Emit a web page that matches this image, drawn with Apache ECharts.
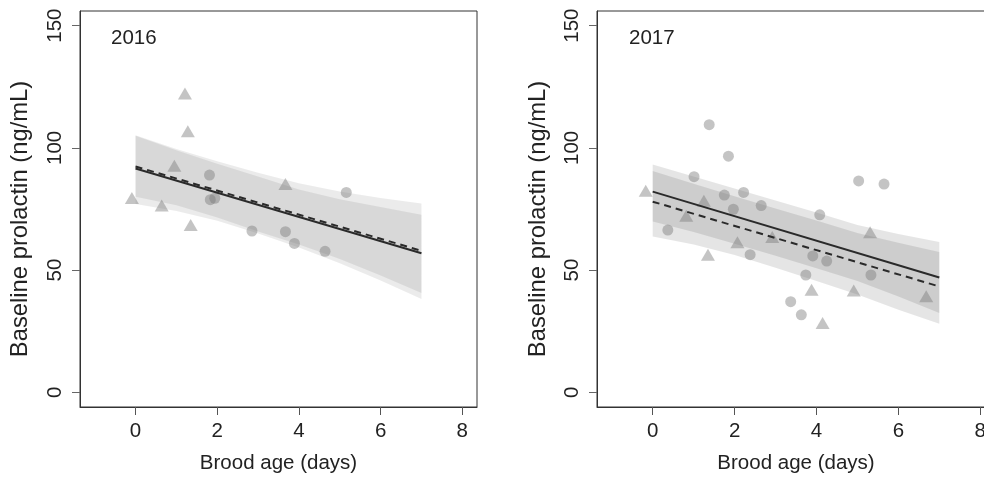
<!DOCTYPE html>
<html><head><meta charset="utf-8">
<script src="https://cdn.jsdelivr.net/npm/echarts@6/dist/echarts.min.js"></script>
<style>html,body{margin:0;padding:0;background:#fff;overflow:hidden}#c{width:1000px;height:479px}</style>
</head><body><div id="c"></div>
<script>
// ---------- data ----------
const xTicks = [0, 2, 4, 6, 8];
const yTicks = [0, 50, 100, 150];
const bandX = [0, 1, 2, 3, 4, 5, 6, 7];
const lineX = [0, 7];

// 2016
const tri2016X = [-0.09, 0.64, 0.95, 1.21, 1.28, 1.35, 3.67];
const tri2016Y = [79.5, 76.4, 92.7, 122.2, 106.8, 68.5, 85.2];
const circ2016X = [1.81, 1.83, 1.94, 2.85, 3.67, 3.89, 4.64, 5.16];
const circ2016Y = [88.9, 78.8, 79.4, 66.0, 65.7, 60.9, 57.7, 81.8];
const solid2016 = [91.6, 56.9];
const dashed2016 = [92.4, 57.9];
const bandA2016Upper = [105.2, 99.5, 94.5, 89.8, 85.5, 82.2, 79.5, 77.3];
const bandA2016Lower = [80.0, 76.5, 71.5, 65.8, 60.5, 54.5, 47.8, 40.6];
const bandB2016Upper = [105.0, 99.0, 93.5, 88.3, 83.0, 79.0, 75.8, 72.6];
const bandB2016Lower = [77.0, 74.2, 70.2, 65.0, 59.3, 52.8, 45.8, 38.2];

// 2017
const tri2017X = [-0.17, 0.82, 1.25, 1.35, 2.07, 2.92, 3.88, 4.15, 4.91, 5.31, 6.68];
const tri2017Y = [82.5, 72.2, 78.4, 56.3, 61.4, 63.5, 42.0, 28.4, 41.7, 65.5, 39.3];
const circ2017X = [0.37, 1.01, 1.38, 1.75, 1.85, 1.97, 2.22, 2.38, 2.65, 3.37, 3.63, 3.74, 3.91, 4.08, 4.25, 5.03, 5.33, 5.65];
const circ2017Y = [66.4, 88.2, 109.5, 80.7, 96.6, 74.9, 81.8, 56.3, 76.4, 37.1, 31.7, 48.0, 55.8, 72.6, 53.7, 86.5, 48.0, 85.2];
const solid2017 = [82.1, 47.0];
const dashed2017 = [78.0, 43.3];
const bandS2017Upper = [93.2, 88.3, 83.4, 78.5, 73.6, 68.5, 64.8, 61.5];
const bandS2017Lower = [69.9, 65.6, 60.8, 55.9, 50.8, 45.5, 39.2, 32.5];
const bandD2017Upper = [90.5, 85.3, 80.2, 75.2, 70.3, 65.2, 61.2, 57.4];
const bandD2017Lower = [63.8, 60.5, 56.2, 51.0, 45.5, 40.0, 33.8, 28.1];

// ---------- style ----------
const FONT = 'Liberation Sans, Arial, Helvetica, sans-serif';
const FS = 20.5;
const FS_YTITLE = 23.8;
const PT_COLOR = 'rgba(120,120,120,0.55)';

function pairs(xs, ys) { return xs.map((x, i) => [x, ys[i]]); }

function bandSeries(idx, upper, lower, fill) {
  return {
    type: 'custom', xAxisIndex: idx, yAxisIndex: idx, z: 1, silent: true,
    data: [[bandX[0], upper[0]]],
    renderItem: function (params, api) {
      const pts = [];
      for (let i = 0; i < bandX.length; i++) pts.push(api.coord([bandX[i], upper[i]]));
      for (let i = bandX.length - 1; i >= 0; i--) pts.push(api.coord([bandX[i], lower[i]]));
      return { type: 'polygon', shape: { points: pts }, style: { fill: fill } };
    }
  };
}
function scatterSeries(idx, xs, ys, sym) {
  return {
    type: 'scatter', xAxisIndex: idx, yAxisIndex: idx, z: 2, silent: true,
    symbol: sym, symbolSize: sym === 'triangle' ? [14, 12] : 11,
    itemStyle: { color: PT_COLOR },
    data: pairs(xs, ys)
  };
}
function lineSeries(idx, ys, dashed) {
  return {
    type: 'line', xAxisIndex: idx, yAxisIndex: idx, z: 3, silent: true,
    showSymbol: false, symbol: 'none',
    lineStyle: { color: '#2a2a2a', width: 2, type: dashed ? [7, 5] : 'solid' },
    data: pairs(lineX, ys)
  };
}
function xAx(idx) {
  return {
    type: 'value', gridIndex: idx, min: -1.36, max: 8.36,
    splitLine: { show: false },
    axisLine: { show: true, onZero: false, lineStyle: { color: '#333', width: 1 } },
    axisTick: { show: true, length: 8, customValues: xTicks, lineStyle: { color: '#555' } },
    axisLabel: { customValues: xTicks, margin: 14, fontSize: FS, color: '#222', fontFamily: FONT }
  };
}
function yAx(idx) {
  return {
    type: 'value', gridIndex: idx, min: -6, max: 156,
    splitLine: { show: false },
    axisLine: { show: true, onZero: false, lineStyle: { color: '#333', width: 1 } },
    axisTick: { show: true, length: 8, customValues: yTicks, lineStyle: { color: '#666' } },
    axisLabel: { customValues: yTicks, rotate: 90, margin: 14.5, fontSize: FS, color: '#222', fontFamily: FONT }
  };
}
function txt(x, y, s, rot, align, fs) {
  return {
    type: 'text', x: x, y: y, rotation: rot || 0, silent: true,
    style: { text: s, align: align || 'center', verticalAlign: 'middle', fontSize: fs || FS, fontFamily: FONT, fill: '#222' }
  };
}

const chart = echarts.init(document.getElementById('c'), null, { renderer: 'canvas' });
chart.setOption({
  animation: false,
  backgroundColor: '#fff',
  grid: [
    { left: 80, top: 11, width: 397, height: 396, show: true, borderColor: '#333', borderWidth: 1, backgroundColor: 'transparent' },
    { left: 597, top: 11, width: 398, height: 396, show: true, borderColor: '#333', borderWidth: 1, backgroundColor: 'transparent' }
  ],
  xAxis: [xAx(0), xAx(1)],
  yAxis: [yAx(0), yAx(1)],
  series: [
    bandSeries(0, bandA2016Upper, bandA2016Lower, 'rgba(0,0,0,0.08)'),
    bandSeries(0, bandB2016Upper, bandB2016Lower, 'rgba(0,0,0,0.08)'),
    scatterSeries(0, tri2016X, tri2016Y, 'triangle'),
    scatterSeries(0, circ2016X, circ2016Y, 'circle'),
    lineSeries(0, solid2016, false),
    lineSeries(0, dashed2016, true),
    bandSeries(1, bandS2017Upper, bandS2017Lower, 'rgba(0,0,0,0.1)'),
    bandSeries(1, bandD2017Upper, bandD2017Lower, 'rgba(0,0,0,0.1)'),
    scatterSeries(1, tri2017X, tri2017Y, 'triangle'),
    scatterSeries(1, circ2017X, circ2017Y, 'circle'),
    lineSeries(1, solid2017, false),
    lineSeries(1, dashed2017, true)
  ],
  graphic: [
    txt(278.5, 463, 'Brood age (days)'),
    txt(796, 463, 'Brood age (days)'),
    txt(20, 219, 'Baseline prolactin (ng/mL)', Math.PI / 2, 'center', FS_YTITLE),
    txt(538, 219, 'Baseline prolactin (ng/mL)', Math.PI / 2, 'center', FS_YTITLE),
    txt(111, 38, '2016', 0, 'left'),
    txt(629, 38, '2017', 0, 'left')
  ]
});
</script></body></html>
